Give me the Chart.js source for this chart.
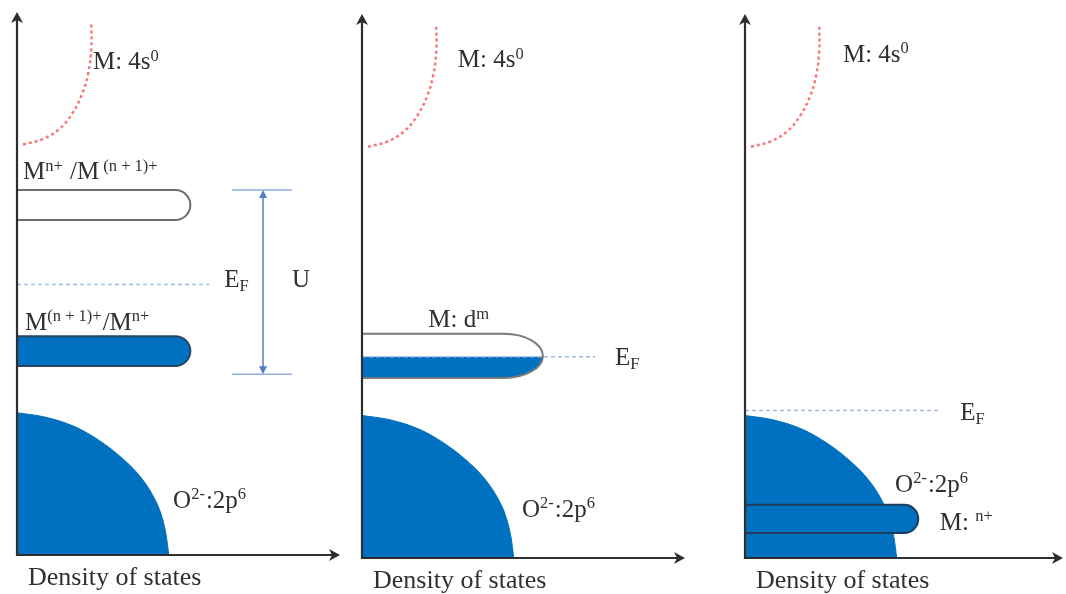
<!DOCTYPE html>
<html>
<head>
<meta charset="utf-8">
<script src="https://cdn.jsdelivr.net/npm/chart.js@4"></script>
<style>
  html, body { margin: 0; padding: 0; background: #fff; }
  #wrap { position: relative; width: 1066px; height: 594px; }
  canvas { position: absolute; top: 0; }
</style>
</head>
<body>
<div id="wrap">
  <canvas id="p1" width="350" height="594" style="left:0px"></canvas>
  <canvas id="p2" width="370" height="594" style="left:350px"></canvas>
  <canvas id="p3" width="346" height="594" style="left:720px"></canvas>
</div>
<script>
// Energy runs 0..10 up each axis, density of states 0..6 along it (arbitrary units)

// empty M 4s band edge (same sketch in every panel)
const s4Dos = [0.11, 0.48, 0.78, 1.02, 1.21, 1.32, 1.38, 1.38];
const s4Energy = [7.56, 7.66, 7.84, 8.12, 8.49, 8.86, 9.32, 9.80];

// filled O 2p valence band
const o2pDos = [0, 0.52, 1.08, 1.54, 1.91, 2.25, 2.51, 2.68, 2.77, 2.82];
const o2pEnergy = [2.62, 2.54, 2.36, 2.10, 1.82, 1.49, 1.12, 0.74, 0.37, 0];

// Fermi level per panel and how far its dashed line runs
const fermiLevel = [4.98, 3.70, 2.71];
const fermiExtent = [3.57, 4.33, 3.62];

// metal d bands: owning panel, energy bottom / top, DOS extent, occupied up to
const bandPanel = [0, 0, 1, 2];
const bandBottom = [6.17, 3.48, 3.31, 0.46];
const bandTop = [6.72, 4.03, 4.12, 0.98];
const bandExtent = [3.22, 3.22, 3.36, 3.22];
const bandFilledTo = [null, 4.03, 3.70, 0.98];

// Hubbard gap U between the two bands of the first panel
const uGapDos = 4.57;
const uGapBottom = 3.33;
const uGapTop = 6.72;

const BLUE = '#0070c0';
const serif = '"Liberation Serif", "Times New Roman", serif';

const bandStyle = [
  { cap: 15, stroke: '#6e6e6e' },
  { cap: 15, stroke: '#2a4660' },
  { cap: 39, stroke: '#7a7a7a' },
  { cap: 14, stroke: '#1d3d60' }
];

const panels = [
  {
    id: 'p1', xMax: 6,
    pad: { left: 17, top: 12, right: 10, bottom: 39 },
    labels: [
      { parts: [['M: 4s', ''], ['0', 'sup']], x: 1.41, y: 8.95 },
      { parts: [['M', ''], ['n+', 'sup'], [' /M', ''], [' (n + 1)+', 'sup']], x: 0.11, y: 6.92 },
      { parts: [['E', ''], ['F', 'sub']], x: 3.85, y: 4.94 },
      { parts: [['U', '']], x: 5.11, y: 4.94 },
      { parts: [['M', ''], ['(n + 1)+', 'sup'], ['/M', ''], ['n+', 'sup']], x: 0.15, y: 4.15 },
      { parts: [['O', ''], ['2-', 'sup'], [':2p', ''], ['6', 'sup']], x: 2.90, y: 0.87 }
    ]
  },
  {
    id: 'p2', xMax: 6,
    pad: { left: 12, top: 14, right: 35, bottom: 36 },
    labels: [
      { parts: [['M: 4s', ''], ['0', 'sup']], x: 1.78, y: 9.02 },
      { parts: [['M: d', ''], ['m', 'sup']], x: 1.23, y: 4.24 },
      { parts: [['E', ''], ['F', 'sub']], x: 4.70, y: 3.55 },
      { parts: [['O', ''], ['2-', 'sup'], [':2p', ''], ['6', 'sup']], x: 2.97, y: 0.76 }
    ]
  },
  {
    id: 'p3', xMax: 5.91,
    pad: { left: 25, top: 14, right: 3, bottom: 36 },
    labels: [
      { parts: [['M: 4s', ''], ['0', 'sup']], x: 1.82, y: 9.12 },
      { parts: [['E', ''], ['F', 'sub']], x: 4.00, y: 2.54 },
      { parts: [['O', ''], ['2-', 'sup'], [':2p', ''], ['6', 'sup']], x: 2.79, y: 1.22 },
      { parts: [['M: ', ''], ['n+', 'sup']], x: 3.62, y: 0.52 }
    ]
  }
];

function richText(ctx, parts, x, y, size) {
  ctx.save();
  ctx.textBaseline = 'alphabetic';
  ctx.textAlign = 'left';
  ctx.fillStyle = '#303030';
  let cx = x;
  parts.forEach(([txt, pos]) => {
    const s = pos ? size * 0.66 : size;
    const dy = pos === 'sup' ? -size * 0.34 : pos === 'sub' ? size * 0.16 : 0;
    ctx.font = s + 'px ' + serif;
    ctx.fillText(txt, cx, y + dy);
    cx += ctx.measureText(txt).width + (pos === 'sup' ? 1 : 0);
  });
  ctx.restore();
}

function bandPath(ctx, x0, x1, yTop, yBot, cap) {
  const mid = (yTop + yBot) / 2;
  const half = (yBot - yTop) / 2;
  ctx.beginPath();
  ctx.moveTo(x0, yTop);
  ctx.lineTo(x1 - cap, yTop);
  ctx.ellipse(x1 - cap, mid, cap, half, 0, -Math.PI / 2, Math.PI / 2);
  ctx.lineTo(x0, yBot);
  ctx.closePath();
}

function arrowHead(ctx, x, y, dir) {
  // filled barbed triangle pointing along dir
  const L = 11, W = 6;
  ctx.beginPath();
  if (dir === 'up') { ctx.moveTo(x, y); ctx.lineTo(x - W, y + L); ctx.lineTo(x, y + L - 3); ctx.lineTo(x + W, y + L); }
  if (dir === 'right') { ctx.moveTo(x, y); ctx.lineTo(x - L, y - W); ctx.lineTo(x - L + 3, y); ctx.lineTo(x - L, y + W); }
  ctx.closePath();
  ctx.fill();
}

const diagramPlugin = {
  id: 'dosDiagram',
  afterDatasetsDraw(chart) {
    const { ctx, scales: { x, y }, chartArea } = chart;
    const p = chart.options.plugins.dosDiagram.panel;
    const panel = panels[p];

    // d bands
    bandPanel.forEach((bp, i) => {
      if (bp !== p) return;
      const x0 = x.getPixelForValue(0);
      const x1 = x.getPixelForValue(bandExtent[i]);
      const yTop = y.getPixelForValue(bandTop[i]);
      const yBot = y.getPixelForValue(bandBottom[i]);
      const st = bandStyle[i];
      ctx.save();
      bandPath(ctx, x0, x1, yTop, yBot, st.cap);
      ctx.fillStyle = '#fff';
      ctx.fill();
      if (bandFilledTo[i] !== null) {
        const yf = y.getPixelForValue(bandFilledTo[i]);
        ctx.save();
        ctx.clip();
        ctx.fillStyle = BLUE;
        ctx.fillRect(x0, yf, x1 - x0 + 2, yBot - yf + 2);
        ctx.restore();
      }
      bandPath(ctx, x0, x1, yTop, yBot, st.cap);
      ctx.strokeStyle = st.stroke;
      ctx.lineWidth = 2;
      ctx.stroke();
      ctx.restore();
    });

    // Fermi level
    ctx.save();
    ctx.strokeStyle = '#a3bbe3';
    ctx.lineWidth = 1.5;
    ctx.setLineDash([4, 3]);
    const yF = y.getPixelForValue(fermiLevel[p]);
    ctx.beginPath();
    ctx.moveTo(x.getPixelForValue(0), yF);
    ctx.lineTo(x.getPixelForValue(fermiExtent[p]), yF);
    ctx.stroke();
    ctx.restore();

    // Hubbard U marker
    if (p === 0) {
      const ux = x.getPixelForValue(uGapDos);
      const yT = y.getPixelForValue(uGapTop);
      const yB = y.getPixelForValue(uGapBottom);
      ctx.save();
      ctx.strokeStyle = '#8db0df';
      ctx.lineWidth = 1.5;
      ctx.beginPath();
      ctx.moveTo(ux - 31, yT); ctx.lineTo(ux + 29, yT);
      ctx.moveTo(ux - 31, yB); ctx.lineTo(ux + 29, yB);
      ctx.stroke();
      ctx.strokeStyle = '#4f80c6';
      ctx.beginPath();
      ctx.moveTo(ux, yT + 4); ctx.lineTo(ux, yB - 4);
      ctx.stroke();
      ctx.fillStyle = '#4f80c6';
      const L = 8, W = 4;
      ctx.beginPath();
      ctx.moveTo(ux, yT); ctx.lineTo(ux - W, yT + L); ctx.lineTo(ux + W, yT + L); ctx.closePath();
      ctx.moveTo(ux, yB); ctx.lineTo(ux - W, yB - L); ctx.lineTo(ux + W, yB - L); ctx.closePath();
      ctx.fill();
      ctx.restore();
    }

    // axes with arrowheads
    const ox = x.getPixelForValue(0);
    const oy = y.getPixelForValue(0);
    ctx.save();
    ctx.strokeStyle = '#2e2e2e';
    ctx.fillStyle = '#2e2e2e';
    ctx.lineWidth = 2.2;
    ctx.beginPath();
    ctx.moveTo(ox, oy + 1);
    ctx.lineTo(ox, chartArea.top + 6);
    ctx.moveTo(ox - 1, oy);
    ctx.lineTo(chartArea.right - 6, oy);
    ctx.stroke();
    arrowHead(ctx, ox, chartArea.top, 'up');
    arrowHead(ctx, chartArea.right, oy, 'right');
    ctx.restore();

    // labels
    panel.labels.forEach(l => {
      richText(ctx, l.parts, x.getPixelForValue(l.x), y.getPixelForValue(l.y), 25);
    });
    ctx.save();
    ctx.font = '26px ' + serif;
    ctx.fillStyle = '#303030';
    ctx.textBaseline = 'alphabetic';
    ctx.fillText('Density of states', ox + 11, oy + 30);
    ctx.restore();
  }
};

panels.forEach((panel, p) => {
  new Chart(document.getElementById(panel.id), {
    type: 'scatter',
    data: {
      datasets: [
        {
          label: 'M 4s',
          data: s4Dos.map((d, i) => ({ x: d, y: s4Energy[i] })),
          showLine: true,
          borderColor: '#f77a7a',
          borderWidth: 2.5,
          borderDash: [3, 3],
          pointRadius: 0,
          tension: 0.4,
          fill: false
        },
        {
          label: 'O 2p',
          data: o2pDos.map((d, i) => ({ x: d, y: o2pEnergy[i] })),
          showLine: true,
          borderColor: BLUE,
          backgroundColor: BLUE,
          borderWidth: 1,
          pointRadius: 0,
          cubicInterpolationMode: 'monotone',
          fill: 'origin'
        }
      ]
    },
    options: {
      responsive: false,
      animation: false,
      devicePixelRatio: 1,
      layout: { padding: panel.pad },
      scales: {
        x: { type: 'linear', min: 0, max: panel.xMax, display: false },
        y: { type: 'linear', min: 0, max: 10, display: false }
      },
      plugins: {
        legend: { display: false },
        tooltip: { enabled: false },
        dosDiagram: { panel: p }
      }
    },
    plugins: [diagramPlugin]
  });
});
</script>
</body>
</html>
